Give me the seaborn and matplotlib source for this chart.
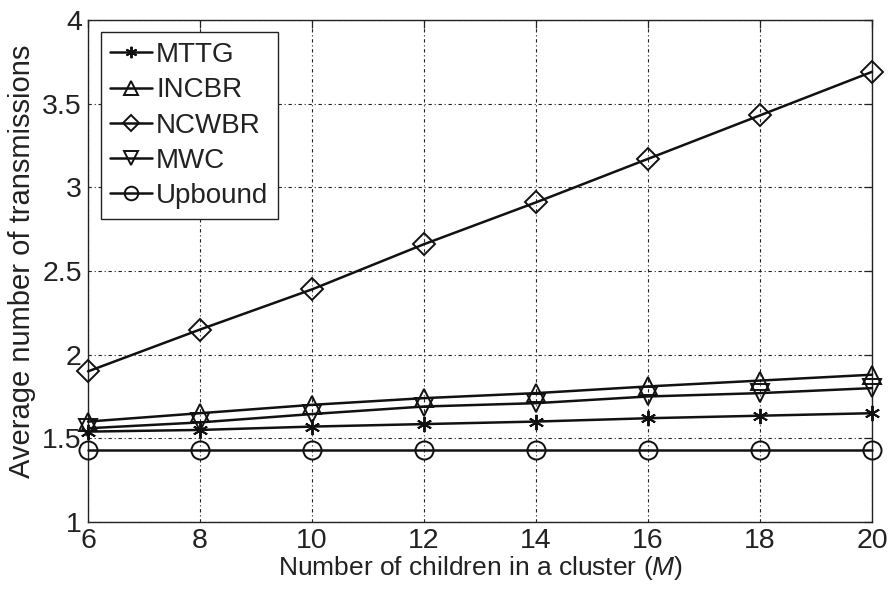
import matplotlib
matplotlib.use("Agg")
import matplotlib.pyplot as plt
import seaborn as sns
import pandas as pd

# Cluster sizes (number of children M)
children = [6, 8, 10, 12, 14, 16, 18, 20]

# Average number of transmissions per scheme
mttg = [1.54, 1.55, 1.57, 1.585, 1.60, 1.62, 1.635, 1.65]
incbr = [1.60, 1.65, 1.70, 1.74, 1.77, 1.81, 1.845, 1.88]
ncwbr = [1.90, 2.15, 2.39, 2.66, 2.91, 3.17, 3.43, 3.69]
mwc = [1.56, 1.595, 1.645, 1.69, 1.71, 1.75, 1.77, 1.80]
upbound = [1.43, 1.43, 1.43, 1.43, 1.43, 1.43, 1.43, 1.43]

series_names = ["MTTG", "INCBR", "NCWBR", "MWC", "Upbound"]
series_values = [mttg, incbr, ncwbr, mwc, upbound]
series_markers = [(6, 2, 0), "^", "D", "v", "o"]
series_msize = [11, 13, 11, 13, 13]

x_ticks = [6, 8, 10, 12, 14, 16, 18, 20]
y_ticks = [1, 1.5, 2, 2.5, 3, 3.5, 4]
y_ticklabels = ["1", "1.5", "2", "2.5", "3", "3.5", "4"]

sns.set_style("white")
plt.rcParams["font.family"] = ["Liberation Sans", "DejaVu Sans"]
plt.rcParams["mathtext.fontset"] = "custom"
plt.rcParams["mathtext.it"] = "Liberation Sans:italic"
plt.rcParams["mathtext.rm"] = "Liberation Sans"

frames = []
for name, vals in zip(series_names, series_values):
    frames.append(pd.DataFrame({"M": children, "value": vals, "scheme": name}))
df = pd.concat(frames, ignore_index=True)

fig = plt.figure(figsize=(8.88, 5.89), dpi=100)
ax = fig.add_axes([0.0991, 0.1138, 0.8829, 0.8523])

for name, marker, ms in zip(series_names, series_markers, series_msize):
    sub = df[df["scheme"] == name]
    sns.lineplot(
        data=sub, x="M", y="value", ax=ax, color="#111111",
        linewidth=1.8, marker=marker, markersize=ms,
        markerfacecolor="none", markeredgecolor="#111111",
        markeredgewidth=1.4, label=name, estimator=None, sort=False,
        clip_on=False, zorder=3,
    )

ax.set_xlim(6, 20)
ax.set_ylim(1, 4)
ax.set_xticks(x_ticks)
ax.set_yticks(y_ticks)
ax.set_yticklabels(y_ticklabels)

ax.grid(True, color="#222222", linestyle=(0, (3, 2.5, 1, 2.5)), linewidth=0.8)
ax.tick_params(direction="in", length=6, width=0.9, top=True, right=True,
               labelsize=20.5, colors="#222222")
ax.tick_params(axis="x", pad=4)
ax.tick_params(axis="y", pad=4.5)
for spine in ax.spines.values():
    spine.set_color("#222222")
    spine.set_linewidth(1.0)

ax.set_xlabel(r"Number of children in a cluster ($\mathit{M}$)", fontsize=19,
              color="#222222", labelpad=0)
ax.set_ylabel("Average number of transmissions", fontsize=21,
              color="#222222")
ax.yaxis.set_label_coords(-0.066, 0.52)

leg = ax.legend(loc="upper left", fontsize=20, frameon=True, fancybox=False,
                edgecolor="#222222", handlelength=1.5, handletextpad=0.15,
                labelspacing=0.33, borderpad=0.35, borderaxespad=0.45,
                framealpha=1, markerscale=0.75)
leg.get_frame().set_linewidth(1.0)
for t in leg.get_texts():
    t.set_color("#222222")

fig.savefig("out.png", dpi=100, facecolor="white")
